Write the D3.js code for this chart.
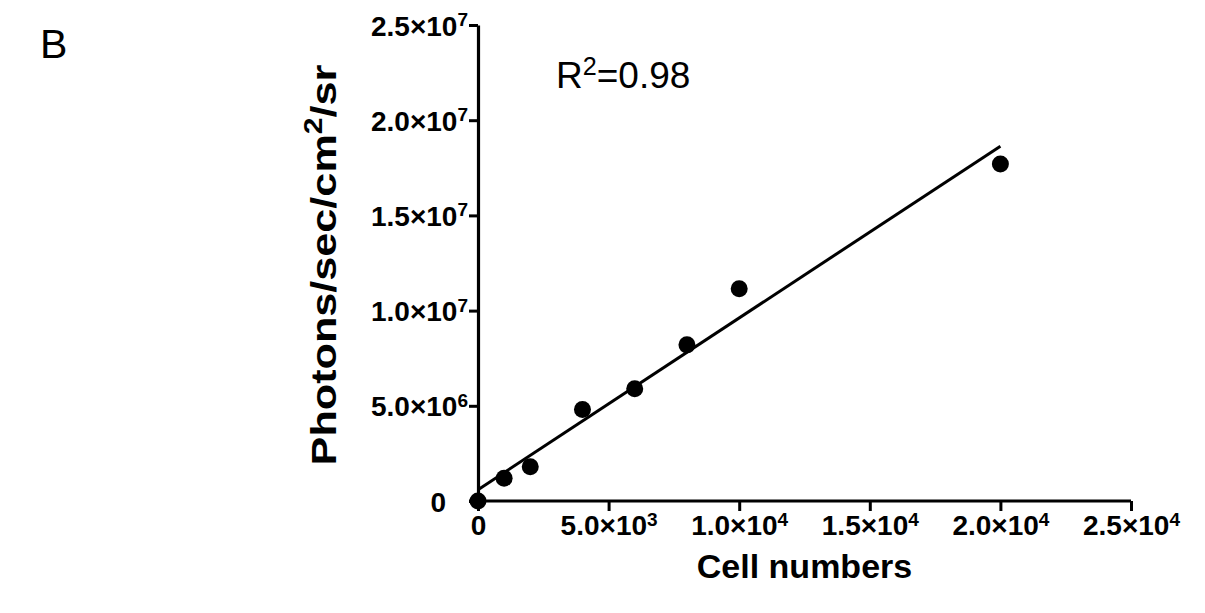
<!DOCTYPE html>
<html>
<head>
<meta charset="utf-8">
<script src="https://cdn.jsdelivr.net/npm/d3@7"></script>
<style>
  body { margin: 0; background: #fff; }
  svg text { font-family: "Liberation Sans", Arial, sans-serif; }
</style>
</head>
<body>
<script>
/* ---------------------------- */
/* DATA                         */
/* ---------------------------- */

// Cell numbers (x) and measured signal (photons/sec/cm2/sr)
const cells   = [0, 1000, 2000, 4000, 6000, 8000, 10000, 20000];
const photons = [0, 1.2e6, 1.8e6, 4.8e6, 5.9e6, 8.2e6, 11.15e6, 17.7e6];

const xTicks = [0, 5000, 10000, 15000, 20000, 25000];
const yTicks = [0, 5e6, 1e7, 1.5e7, 2e7, 2.5e7];

const panelLabel = "B";
const r2Text = "0.98";

/* ---------------------------- */
/* CANVAS                       */
/* ---------------------------- */

const W = 1205, H = 613;
let svg = d3.select("body").append("svg")
    .attr("width", W)
    .attr("height", H);

// plot box
let plot = {left: 478, right: 1131, top: 25, bottom: 501};

let x = d3.scaleLinear().domain([0, 25000]).range([plot.left, plot.right]);
let y = d3.scaleLinear().domain([0, 2.5e7]).range([plot.bottom, plot.top]);

// least squares fit of the points
let mx = d3.mean(cells), my = d3.mean(photons);
let sxy = d3.sum(cells, (c, i) => (c - mx) * (photons[i] - my));
let sxx = d3.sum(cells, c => (c - mx) * (c - mx));
let slope = sxy / sxx, intercept = my - slope * mx;

/* ---------------------------- */
/* FUNCTIONS                    */
/* ---------------------------- */

// write "m.m×10^e" with a real superscript
function sciLabel(sel, v) {
    sel.text(null);
    if (v === 0) { sel.text("0"); return; }
    let e = Math.floor(Math.log10(v));
    let m = (v / Math.pow(10, e)).toFixed(1);
    sel.append("tspan").text(m + "×10");
    sel.append("tspan").attr("font-size", "0.68em").attr("dy", "-0.5em").text(e);
}

/* ---------------------------- */
/* AXES                         */
/* ---------------------------- */

let xAxis = svg.append("g")
    .attr("transform", "translate(0," + plot.bottom + ")")
    .call(d3.axisBottom(x).tickValues(xTicks).tickSize(10).tickSizeOuter(0).tickPadding(3));

let yAxis = svg.append("g")
    .attr("transform", "translate(" + plot.left + ",0)")
    .call(d3.axisLeft(y).tickValues(yTicks).tickSize(9).tickSizeOuter(0).tickPadding(1));

[xAxis, yAxis].forEach(g => {
    g.select(".domain").attr("stroke", "#000").attr("stroke-width", 3.2);
    g.selectAll(".tick line").attr("stroke", "#000").attr("stroke-width", 3);
    g.selectAll(".tick text")
        .attr("fill", "#000")
        .attr("font-size", 28)
        .attr("font-weight", "bold")
        .attr("font-family", "'Liberation Sans', Arial, sans-serif")
        .each(function(d) { sciLabel(d3.select(this), d); });
});
// extend x axis line to meet the 0 tick of the y axis
xAxis.select(".domain").attr("d", "M" + (plot.left - 9) + ",0H" + plot.right);
yAxis.selectAll(".tick text").attr("dy", "0.36em");
yAxis.selectAll(".tick text").filter(d => d === 0).attr("dx", -22);
xAxis.selectAll(".tick text").attr("dy", "0.76em");

/* ---------------------------- */
/* MARKS                        */
/* ---------------------------- */

svg.append("line")
    .attr("x1", x(0)).attr("y1", y(intercept))
    .attr("x2", x(20000)).attr("y2", y(intercept + slope * 20000))
    .attr("stroke", "#000")
    .attr("stroke-width", 3);

svg.selectAll("circle")
    .data(cells.map((c, i) => ({c: c, p: photons[i]})))
    .enter()
    .append("circle")
        .attr("cx", d => x(d.c))
        .attr("cy", d => y(d.p))
        .attr("r", 8.5)
        .attr("fill", "#000");

/* ---------------------------- */
/* TEXT                         */
/* ---------------------------- */

svg.append("text")
    .attr("x", (plot.left + plot.right) / 2)
    .attr("y", 578)
    .attr("text-anchor", "middle")
    .attr("font-size", 34)
    .attr("font-weight", "bold")
    .text("Cell numbers");

let yl = svg.append("text")
    .attr("transform", "translate(336," + 265 + ") rotate(-90) scale(1.2,1)")
    .attr("text-anchor", "middle")
    .attr("font-size", 36)
    .attr("font-weight", "bold");
yl.append("tspan").text("Photons/sec/cm");
yl.append("tspan").attr("font-size", "0.7em").attr("dy", "-0.55em").text("2");
yl.append("tspan").attr("dy", "0.385em").text("/sr");

let r2 = svg.append("text")
    .attr("x", 556)
    .attr("y", 88)
    .attr("font-size", 37);
r2.append("tspan").text("R");
r2.append("tspan").attr("font-size", "0.68em").attr("dy", "-0.5em").text("2");
r2.append("tspan").attr("dy", "0.34em").text("=" + r2Text);

svg.append("text")
    .attr("x", 40)
    .attr("y", 58)
    .attr("font-size", 41)
    .text(panelLabel);
</script>
</body>
</html>
